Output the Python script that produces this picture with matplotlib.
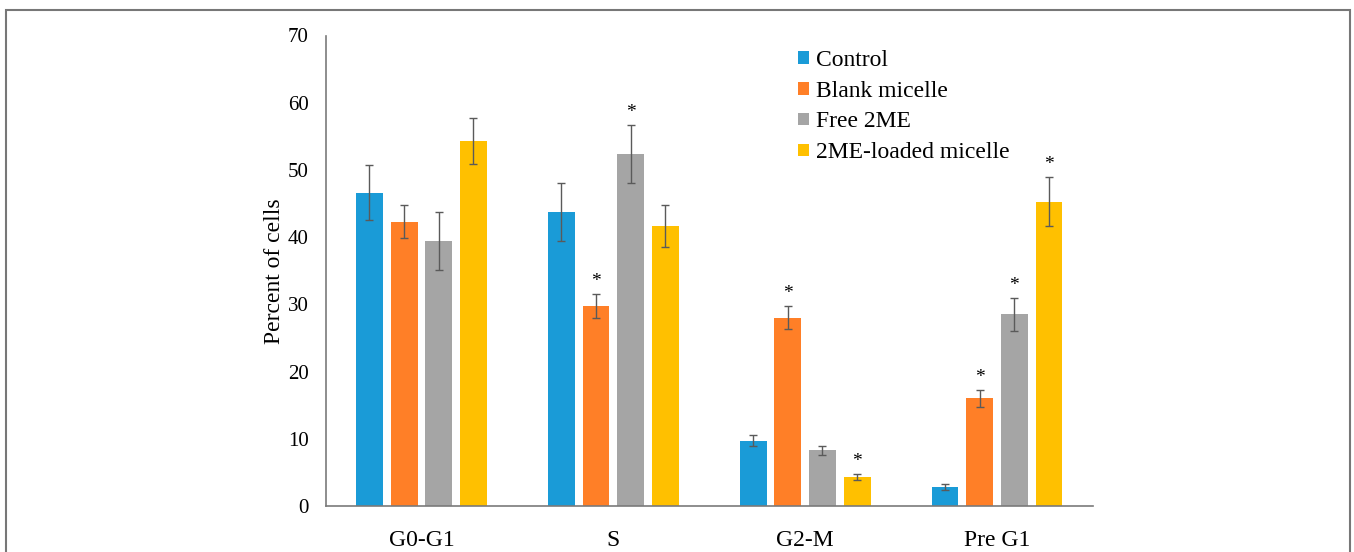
import matplotlib.pyplot as plt
import numpy as np
from matplotlib.patches import Rectangle

plt.rcParams['font.family'] = ['Liberation Serif', 'DejaVu Serif']

categories = ["G0-G1", "S", "G2-M", "Pre G1"]
groups = ["Control", "Blank micelle", "Free 2ME", "2ME-loaded micelle"]

control = [46.6, 43.8, 9.7, 2.8]
control_err = [4.1, 4.3, 0.8, 0.4]
blank = [42.3, 29.7, 28.0, 16.0]
blank_err = [2.5, 1.8, 1.7, 1.2]
free = [39.4, 52.4, 8.3, 28.5]
free_err = [4.3, 4.3, 0.65, 2.5]
loaded = [54.3, 41.7, 4.3, 45.3]
loaded_err = [3.4, 3.1, 0.4, 3.7]

# significant vs control (per group, per category)
control_sig = [False, False, False, False]
blank_sig = [False, True, True, True]
free_sig = [False, True, False, True]
loaded_sig = [False, False, True, True]

colors = ["#1A9BD7", "#FF7F27", "#A5A5A5", "#FFC000"]

fig = plt.figure(figsize=(13.54, 5.52), dpi=100)
ax = fig.add_axes([325.5 / 1354, 1 - 506 / 552, (1093 - 325.5) / 1354, (506 - 35.5) / 552])

x = np.arange(len(categories)) + 0.5
offsets = [-0.271, -0.09, 0.09, 0.271]
width = 0.14

series = [(control, control_err, control_sig), (blank, blank_err, blank_sig),
          (free, free_err, free_sig), (loaded, loaded_err, loaded_sig)]

for (vals, errs, sig), off, col, name in zip(series, offsets, colors, groups):
    xs = x + off
    ax.bar(xs, vals, width, color=col, label=name, zorder=2)
    ax.errorbar(xs, vals, yerr=errs, fmt="none", ecolor="#5a5a5a", elinewidth=1,
                capsize=3, capthick=1, zorder=3)
    for xi, v, e, s in zip(xs, vals, errs, sig):
        if s:
            ax.annotate("*", (xi, v + e), xytext=(0, 9), textcoords="offset points",
                        ha="center", va="center", fontsize=14)

ax.set_xlim(0, 4)
ax.set_ylim(0, 70)
ax.set_yticks(range(0, 71, 10))
ax.set_xticks(x)
ax.set_xticklabels(categories)
ax.tick_params(axis="y", length=0, pad=12, labelsize=15)
ax.tick_params(axis="x", length=0, pad=17, labelsize=17)
ax.set_ylabel("Percent of cells", fontsize=17, labelpad=2)

for side in ["top", "right"]:
    ax.spines[side].set_visible(False)
for side in ["left", "bottom"]:
    ax.spines[side].set_color("#7a7a7a")
    ax.spines[side].set_linewidth(1.2)

ax.legend(loc="upper left", bbox_to_anchor=((789 - 325.5) / (1093 - 325.5), 0.99),
          frameon=False, fontsize=17, handlelength=0.45, handleheight=0.45,
          handletextpad=0.3, labelspacing=0.42, borderaxespad=0)

# outer frame around the figure
fig.patches.append(Rectangle((6 / 1354, -0.1), (1350 - 6) / 1354, 1.1 - 10 / 552,
                             transform=fig.transFigure, fill=False,
                             edgecolor="#777777", linewidth=1.5))

fig.savefig("out.png", dpi=100)
